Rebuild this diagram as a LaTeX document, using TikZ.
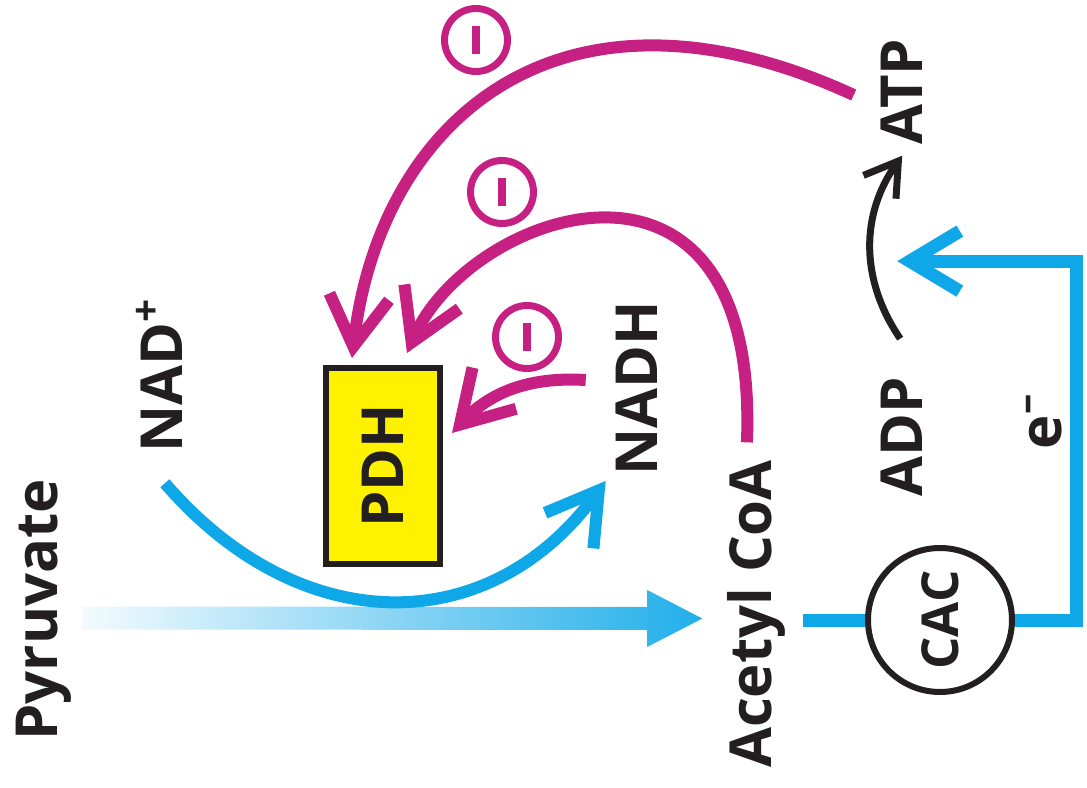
\documentclass[tikz,border=0pt]{standalone}
\usepackage{fontspec}
\setmainfont{Open Sans}
\usetikzlibrary{arrows.meta,calc}

\definecolor{pdhmagenta}{RGB}{198,32,130}
\definecolor{flowblue}{RGB}{14,168,232}
\definecolor{pdhyellow}{RGB}{255,242,0}
\definecolor{inkgray}{RGB}{35,31,32}

\begin{document}
\begin{tikzpicture}[
molecule/.style={
    rotate=90,
    anchor=base,
    inner sep=1mm,
    text=inkgray,
    font=\fontsize{16.5}{18}\selectfont\bfseries},
enzyme/.style={
    draw=inkgray,
    fill=pdhyellow,
    line width=0.06cm,
    minimum width=1.14cm,
    minimum height=1.96cm,
    inner sep=0pt,
    text=inkgray,
    font=\fontsize{16.5}{18}\selectfont\bfseries},
cacring/.style={
    draw=inkgray,
    circle,
    line width=0.06cm,
    minimum size=1.44cm,
    inner sep=0pt,
    text=inkgray,
    font=\fontsize{14.5}{16}\selectfont\bfseries},
inhibit/.style={
    draw=pdhmagenta,
    circle,
    line width=0.07cm,
    minimum size=0.63cm,
    inner sep=0pt,
    path picture={\draw[pdhmagenta, line width=0.08cm]
        ([yshift=-0.14cm]path picture bounding box.center) --
        ([yshift=0.14cm]path picture bounding box.center);}},
feedback/.style={
    draw=pdhmagenta,
    line width=0.12cm,
    -{Straight Barb[length=5mm,width=6mm]}},
cofactor/.style={
    draw=flowblue,
    line width=0.12cm,
    -{Straight Barb[length=5mm,width=6mm]}},
electron/.style={
    draw=flowblue,
    line width=0.13cm},
phosphor/.style={
    draw=inkgray,
    line width=0.07cm,
    -{Straight Barb[length=3.2mm,width=4mm]}}
]

\useasboundingbox (0,0) rectangle (10.87,7.87);

\node (pyr) at (0.57 cm, 1.77 cm) [molecule] {Pyruvate};
\node (nadp) at (1.83 cm, 4.12 cm) [molecule] {NAD\textsuperscript{+}};
\node (nadh) at (6.58 cm, 3.99 cm) [molecule] {NADH};
\node (aca) at (7.72 cm, 1.73 cm) [molecule] {Acetyl CoA};
\node (adp) at (9.23 cm, 3.50 cm) [molecule] {ADP};
\node (atp) at (9.23 cm, 6.95 cm) [molecule] {ATP};
\node (elec) at (10.62 cm, 3.66 cm) [molecule] {e\textsuperscript{--}};

\node (pdh) at (3.83 cm, 3.21 cm) [enzyme] {\rotatebox{90}{PDH}};
\node (cac) at (9.40 cm, 1.67 cm) [cacring] {\rotatebox{90}{CAC}};

\node (inhatp) at (4.76 cm, 7.47 cm) [inhibit] {};
\node (inhaca) at (5.02 cm, 5.95 cm) [inhibit] {};
\node (inhnadh) at (5.27 cm, 4.50 cm) [inhibit] {};

% pyruvate -> acetyl CoA, fading in from the left
\coordinate (flowtail) at ([yshift=-0.8mm]pyr.south);
\coordinate (flowtip) at ([shift={(-1.5mm,-0.45mm)}]aca.north);
\shade[left color=flowblue!5, right color=flowblue!92]
    ($(flowtail)+(0,0.115)$) -- ($(flowtip)+(-0.55,0.115)$)
    -- ($(flowtip)+(-0.55,0.285)$) -- (flowtip)
    -- ($(flowtip)+(-0.55,-0.285)$) -- ($(flowtip)+(-0.55,-0.115)$)
    -- ($(flowtail)+(0,-0.115)$) -- cycle;

\draw[cofactor] ([shift={(0.5mm,-2mm)}]nadp.west)
    .. controls (3.00 cm, 1.47 cm) and (4.89 cm, 1.47 cm) .. ([yshift=0.5mm]nadh.north west);

% product inhibition of PDH
\draw[feedback] ([shift={(-1.7mm,-0.3mm)}]atp.north)
    .. controls (5.60 cm, 8.27 cm) and (3.80 cm, 6.67 cm) .. ([shift={(-3.1mm,0.7mm)}]pdh.north);
\draw[feedback] ([shift={(-1mm,0.7mm)}]aca.east)
    .. controls (7.60 cm, 6.77 cm) and (4.70 cm, 5.77 cm) .. ([shift={(2.4mm,1.2mm)}]pdh.north);
\draw[feedback] ([shift={(-2mm,0.8mm)}]nadh.north) to[bend right=25] ([shift={(0.9mm,3.3mm)}]pdh.east);

\draw[phosphor] ([shift={(-0.2mm,2.8mm)}]adp.east) to[bend left=35] (atp.west);

% citric acid cycle feeding electrons back
\coordinate (ein) at ([xshift=-0.5mm]$(adp.east)!0.5!(atp.west)$);
\draw[electron, shorten <=0.6mm] (aca.south |- cac.west) -- (cac.west);
\draw[electron, -{Straight Barb[length=5mm,width=6mm]}] (cac.east) -- ++(0.62,0) |- (ein);

\end{tikzpicture}
\end{document}
